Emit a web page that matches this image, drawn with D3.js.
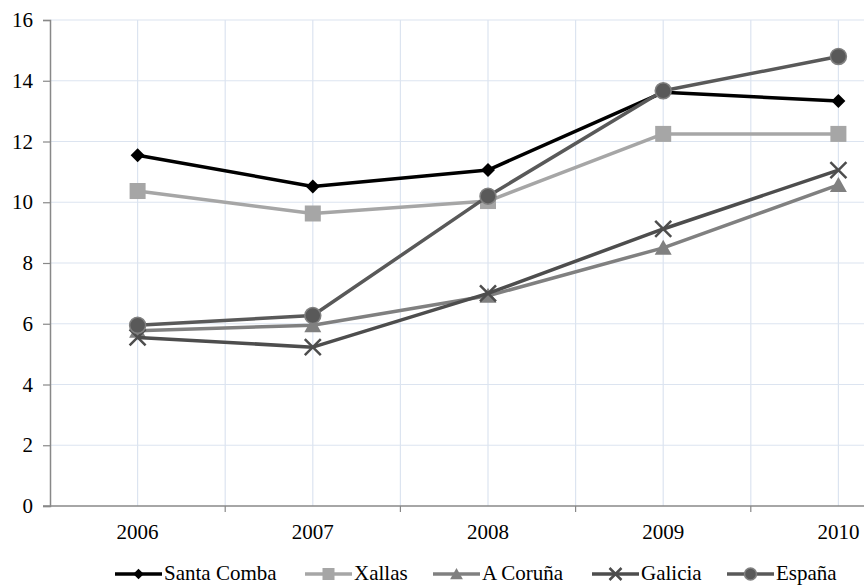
<!DOCTYPE html>
<html><head><meta charset="utf-8">
<script src="https://cdn.jsdelivr.net/npm/d3@7"></script>
<style>body{margin:0;background:#fff}svg{display:block}</style>
</head><body><svg id="c" width="864" height="585"></svg>
<script>
const years = ["2006","2007","2008","2009","2010"];
const yTicks = [0,2,4,6,8,10,12,14,16];
const santaComba = [11.55,10.52,11.06,13.62,13.33];
const xallas = [10.37,9.63,10.04,12.25,12.25];
const aCoruna = [5.77,5.95,6.92,8.5,10.57];
const galicia = [5.55,5.23,7.0,9.12,11.06];
const espana = [5.95,6.27,10.2,13.67,14.8];
const seriesNames = ["Santa Comba","Xallas","A Coruña","Galicia","España"];

const series = [
  {name:seriesNames[0], values:santaComba, color:"#000000", marker:"diamond"},
  {name:seriesNames[1], values:xallas, color:"#a6a6a6", marker:"square"},
  {name:seriesNames[2], values:aCoruna, color:"#808080", marker:"triangle"},
  {name:seriesNames[3], values:galicia, color:"#4d4d4d", marker:"x"},
  {name:seriesNames[4], values:espana, color:"#595959", marker:"circle"}
];
const FONT = "Liberation Serif";

const svg = d3.select("#c");
const pLeft = 50, pRight = 926, pTop = 20, pBottom = 506;
const xb = d3.scaleBand().domain(years).range([pLeft,pRight]).padding(0);
const xc = d => xb(d) + xb.bandwidth()/2;
const y = d3.scaleLinear().domain([0,16]).range([pBottom,pTop]);

const grid = svg.append("g");
yTicks.forEach(t => { if(t>0) grid.append("line").attr("x1",pLeft).attr("x2",864).attr("y1",y(t)).attr("y2",y(t)).attr("stroke","#dce4f0").attr("stroke-width",1.2); });
years.forEach(yr => {
  grid.append("line").attr("x1",xc(yr)).attr("x2",xc(yr)).attr("y1",pTop).attr("y2",pBottom).attr("stroke","#dce4f0").attr("stroke-width",1.2);
  if (xb(yr) > pLeft) grid.append("line").attr("x1",xb(yr)).attr("x2",xb(yr)).attr("y1",pTop).attr("y2",pBottom).attr("stroke","#dce4f0").attr("stroke-width",1.2);
});

// axes
const yAxis = d3.axisLeft(y).tickValues(yTicks).tickSize(7).tickPadding(10);
const gy = svg.append("g").attr("transform",`translate(${pLeft},0)`).call(yAxis);
gy.select(".domain").attr("stroke","#888").attr("stroke-width",1.5);
gy.selectAll(".tick line").attr("stroke","#888").attr("stroke-width",1.2);
gy.selectAll("text").style("font-family",FONT).style("font-size","21px").attr("fill","#000");

const xAxisLine = svg.append("g");
xAxisLine.append("line").attr("x1",pLeft-7).attr("x2",864).attr("y1",pBottom).attr("y2",pBottom).attr("stroke","#888").attr("stroke-width",1.5);
years.forEach(yr => {
  if (xb(yr) > pLeft) xAxisLine.append("line").attr("x1",xb(yr)).attr("x2",xb(yr)).attr("y1",pBottom).attr("y2",pBottom+6).attr("stroke","#888").attr("stroke-width",1.2);
  xAxisLine.append("text").attr("x",xc(yr)).attr("y",pBottom+33).attr("text-anchor","middle")
    .style("font-family",FONT).style("font-size","21px").attr("fill","#000").text(yr);
});

function drawMarker(g, type, cx, cy, color, s) {
  s = s || 1;
  if (type==="diamond") g.append("path").attr("d",`M${cx},${cy-7*s}L${cx+7*s},${cy}L${cx},${cy+7*s}L${cx-7*s},${cy}Z`).attr("fill",color);
  else if (type==="square") g.append("rect").attr("x",cx-8*s).attr("y",cy-8*s).attr("width",16*s).attr("height",16*s).attr("fill",color);
  else if (type==="triangle") g.append("path").attr("d",`M${cx},${cy-8*s}L${cx+8.5*s},${cy+7*s}L${cx-8.5*s},${cy+7*s}Z`).attr("fill",color);
  else if (type==="x") g.append("path").attr("d",`M${cx-8*s},${cy-8*s}L${cx+8*s},${cy+8*s}M${cx-8*s},${cy+8*s}L${cx+8*s},${cy-8*s}`).attr("stroke",color).attr("stroke-width",2.5).attr("fill","none");
  else if (type==="circle") g.append("circle").attr("cx",cx).attr("cy",cy).attr("r",8*s).attr("fill",color).attr("stroke","#808080").attr("stroke-width",1.5);
}

const line = d3.line().x((d,i)=>xc(years[i])).y(d=>y(d));
series.forEach(s => {
  const g = svg.append("g");
  g.append("path").attr("d",line(s.values)).attr("fill","none").attr("stroke",s.color).attr("stroke-width",3.5).attr("stroke-linejoin","round");
  s.values.forEach((v,i)=>drawMarker(g,s.marker,xc(years[i]),y(v),s.color));
});

// legend
const legX = [115,305,433,592,727];
const legY = 574;
series.forEach((s,i)=>{
  const g = svg.append("g");
  const x0 = legX[i];
  g.append("line").attr("x1",x0).attr("x2",x0+47).attr("y1",legY).attr("y2",legY).attr("stroke",s.color).attr("stroke-width",3.5);
  drawMarker(g,s.marker,x0+23.5,legY,s.color,0.75);
  g.append("text").attr("x",x0+49).attr("y",legY+6).style("font-family",FONT).style("font-size","21px").attr("fill","#000").text(s.name);
});
</script></body></html>
